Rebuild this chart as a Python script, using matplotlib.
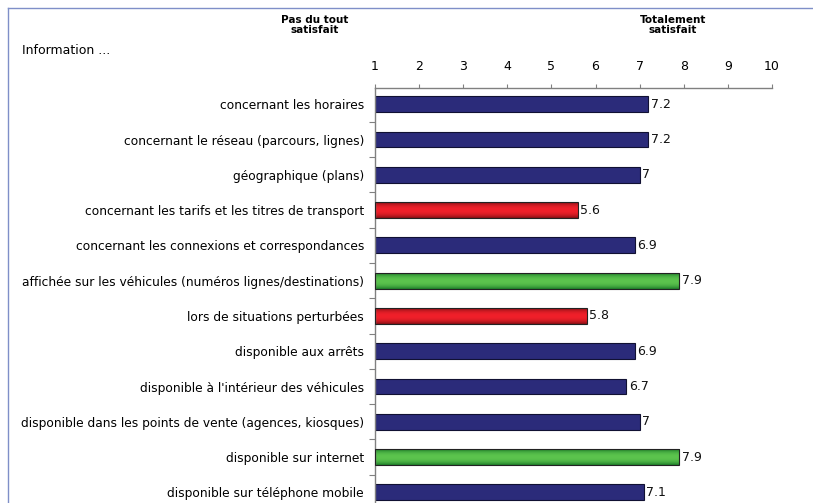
import numpy as np
import matplotlib
matplotlib.use("Agg")
from matplotlib import pyplot as plt
from matplotlib.patches import Rectangle
from matplotlib.lines import Line2D

labels = [
    "concernant les horaires",
    "concernant le réseau (parcours, lignes)",
    "géographique (plans)",
    "concernant les tarifs et les titres de transport",
    "concernant les connexions et correspondances",
    "affichée sur les véhicules (numéros lignes/destinations)",
    "lors de situations perturbées",
    "disponible aux arrêts",
    "disponible à l'intérieur des véhicules",
    "disponible dans les points de vente (agences, kiosques)",
    "disponible sur internet",
    "disponible sur téléphone mobile",
]
scores = [7.2, 7.2, 7, 5.6, 6.9, 7.9, 5.8, 6.9, 6.7, 7, 7.9, 7.1]
groups = ["n", "n", "n", "r", "n", "g", "r", "n", "n", "n", "g", "n"]

# colour pairs: light middle, dark edge of the gradient
palette = {
    "n": ("#2b2b7a", "#1c1c58"),
    "r": ("#f0202a", "#8a1016"),
    "g": ("#5cc44e", "#1f7f2a"),
}

plt.rcParams['font.family'] = ['DejaVu Sans']

fig = plt.figure(figsize=(8.13, 5.03), dpi=100)
ax = fig.add_axes([375 / 813, 0, 397 / 813, 1 - 88 / 503])

y = np.arange(len(labels))
h = 0.45
for yi, v, g in zip(y, scores, groups):
    light, dark = palette[g]
    ca = np.array(matplotlib.colors.to_rgb(light))
    cb = np.array(matplotlib.colors.to_rgb(dark))
    if g == "n":
        ax.barh(yi, v - 1, left=1, height=h, color=light,
                edgecolor="#111133", linewidth=0.8, zorder=2)
    else:
        t = np.abs(np.linspace(-1, 1, 40)) ** 2.2
        img = ca[None, :] * (1 - t[:, None]) + cb[None, :] * t[:, None]
        img = img[:, None, :]
        ax.imshow(img, extent=[1, v, yi + h / 2, yi - h / 2],
                  aspect="auto", zorder=2, interpolation="bilinear")
        ax.add_patch(Rectangle((1, yi - h / 2), v - 1, h, fill=False,
                               edgecolor="#222222", linewidth=0.8, zorder=3))
    ax.text(v + 0.05, yi, f"{v:g}", va="center", ha="left", fontsize=9,
            color="#111111")

ax.set_xlim(1, 10)
ax.set_ylim(11.3, -0.46)
ax.set_xticks(range(1, 11))
ax.xaxis.tick_top()
ax.tick_params(axis="x", direction="out", length=3, width=0.8,
               color="#808080", labelsize=9, pad=8)
ax.set_yticks(y)
ax.set_yticklabels(labels, fontsize=8.8)
ax.set_yticks(np.arange(0.5, len(labels) - 0.5, 1), minor=True)
ax.tick_params(axis="y", which="major", length=0, pad=8)
ax.tick_params(axis="y", which="minor", length=4, width=0.8,
               color="#808080")
for s in ["right", "bottom"]:
    ax.spines[s].set_visible(False)
for s in ["top", "left"]:
    ax.spines[s].set_color("#808080")
    ax.spines[s].set_linewidth(1.0)
ax.set_facecolor("none")

fig.text(315 / 813, 1 - 25 / 503, "Pas du tout\nsatisfait", ha="center",
         va="center", fontsize=7.5, fontweight="bold", linespacing=1.1)
fig.text(673 / 813, 1 - 25 / 503, "Totalement\nsatisfait", ha="center",
         va="center", fontsize=7.5, fontweight="bold", linespacing=1.1)
fig.text(22 / 813, 1 - 50 / 503, "Information ...", ha="left",
         va="center", fontsize=9)

# frame lines of the original picture
fig.add_artist(Line2D([8 / 813, 1], [1 - 8 / 503, 1 - 8 / 503],
                      color="#7f8fc8", linewidth=1.0))
fig.add_artist(Line2D([8 / 813, 8 / 813], [0, 1 - 8 / 503],
                      color="#7f8fc8", linewidth=1.0))

fig.savefig("out.png", dpi=100)
